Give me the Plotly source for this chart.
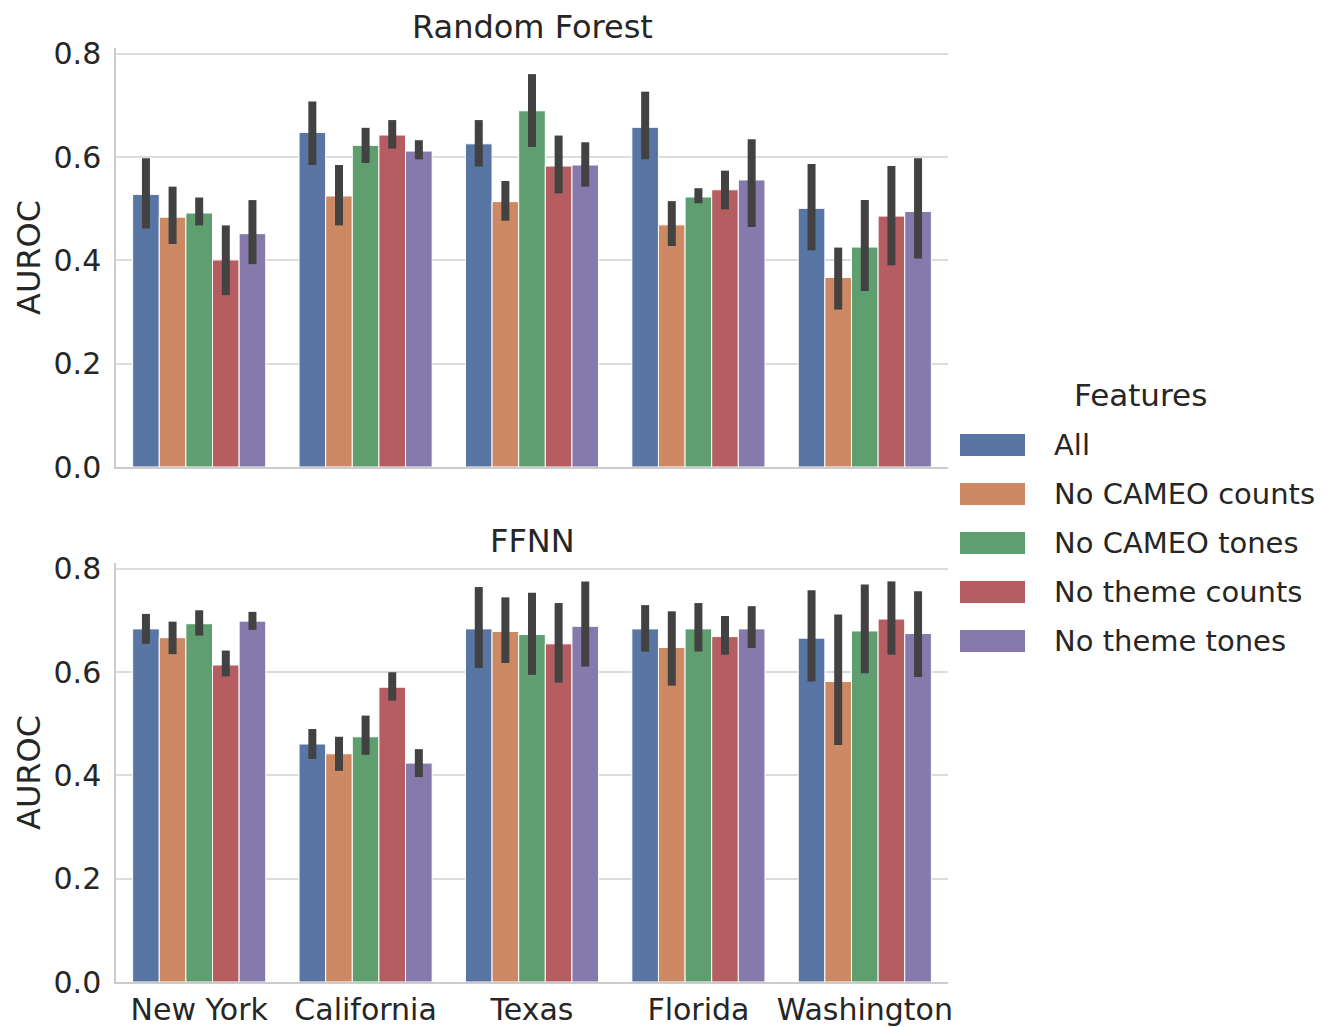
import plotly.graph_objects as go
from plotly.subplots import make_subplots

states = ["New York", "California", "Texas", "Florida", "Washington"]
features = ["All", "No CAMEO counts", "No CAMEO tones", "No theme counts", "No theme tones"]
colors = ["#5875a4", "#cc8963", "#5f9e6e", "#b55d60", "#857aab"]
y_ticks = [0.0, 0.2, 0.4, 0.6, 0.8]
y_tick_labels = ["0.0", "0.2", "0.4", "0.6", "0.8"]

# Random Forest: mean, lower CI, upper CI per feature (across states)
rf_all = [0.528, 0.648, 0.626, 0.658, 0.501]
rf_all_lo = [0.462, 0.585, 0.582, 0.596, 0.420]
rf_all_hi = [0.598, 0.708, 0.672, 0.727, 0.587]
rf_cc = [0.484, 0.525, 0.514, 0.469, 0.367]
rf_cc_lo = [0.432, 0.468, 0.477, 0.428, 0.305]
rf_cc_hi = [0.543, 0.585, 0.554, 0.515, 0.425]
rf_ct = [0.492, 0.623, 0.690, 0.523, 0.426]
rf_ct_lo = [0.468, 0.589, 0.620, 0.511, 0.341]
rf_ct_hi = [0.522, 0.657, 0.761, 0.540, 0.517]
rf_tc = [0.401, 0.643, 0.583, 0.537, 0.486]
rf_tc_lo = [0.333, 0.617, 0.530, 0.499, 0.391]
rf_tc_hi = [0.468, 0.672, 0.642, 0.574, 0.583]
rf_tt = [0.452, 0.612, 0.585, 0.556, 0.495]
rf_tt_lo = [0.393, 0.596, 0.543, 0.465, 0.404]
rf_tt_hi = [0.517, 0.633, 0.629, 0.635, 0.598]

# FFNN
nn_all = [0.684, 0.461, 0.684, 0.684, 0.666]
nn_all_lo = [0.655, 0.432, 0.608, 0.640, 0.582]
nn_all_hi = [0.713, 0.490, 0.765, 0.730, 0.759]
nn_cc = [0.667, 0.442, 0.679, 0.648, 0.582]
nn_cc_lo = [0.635, 0.409, 0.618, 0.574, 0.459]
nn_cc_hi = [0.698, 0.475, 0.745, 0.718, 0.712]
nn_ct = [0.694, 0.475, 0.673, 0.684, 0.680]
nn_ct_lo = [0.671, 0.440, 0.595, 0.640, 0.598]
nn_ct_hi = [0.720, 0.516, 0.754, 0.734, 0.770]
nn_tc = [0.614, 0.571, 0.655, 0.669, 0.703]
nn_tc_lo = [0.592, 0.545, 0.580, 0.634, 0.634]
nn_tc_hi = [0.642, 0.600, 0.734, 0.709, 0.776]
nn_tt = [0.699, 0.424, 0.689, 0.684, 0.675]
nn_tt_lo = [0.682, 0.397, 0.611, 0.647, 0.591]
nn_tt_hi = [0.717, 0.451, 0.776, 0.728, 0.757]

rf_series = [(rf_all, rf_all_lo, rf_all_hi), (rf_cc, rf_cc_lo, rf_cc_hi),
             (rf_ct, rf_ct_lo, rf_ct_hi), (rf_tc, rf_tc_lo, rf_tc_hi),
             (rf_tt, rf_tt_lo, rf_tt_hi)]
nn_series = [(nn_all, nn_all_lo, nn_all_hi), (nn_cc, nn_cc_lo, nn_cc_hi),
             (nn_ct, nn_ct_lo, nn_ct_hi), (nn_tc, nn_tc_lo, nn_tc_hi),
             (nn_tt, nn_tt_lo, nn_tt_hi)]

W, H = 1337, 1027
FONT = "DejaVu Sans"
TXT = "#262626"
GRID = "#dcdcdc"

fig = make_subplots(rows=2, cols=1, shared_xaxes=False)

for row, series in ((1, rf_series), (2, nn_series)):
    for i, (mean, lo, hi) in enumerate(series):
        fig.add_trace(go.Bar(
            x=states, y=mean, name=features[i], showlegend=False,
            marker=dict(color=colors[i], line=dict(color="white", width=1)),
            error_y=dict(type="data", symmetric=False,
                         array=[h - m for h, m in zip(hi, mean)],
                         arrayminus=[m - l for m, l in zip(mean, lo)],
                         color="#424242", thickness=8, width=0),
        ), row=row, col=1)

x0, x1 = 116 / W, 948 / W
top_dom = [(H - 467) / H, (H - 48) / H]
bot_dom = [(H - 982) / H, (H - 563) / H]

axis_common = dict(showline=True, linecolor="#cccccc", linewidth=1.5, automargin=False)
fig.update_layout(
    xaxis=dict(domain=[x0, x1], showticklabels=False, ticks="", showgrid=False,
               range=[-0.5, 4.5], **axis_common),
    xaxis2=dict(domain=[x0, x1], showgrid=False, ticks="", range=[-0.5, 4.5],
                tickfont=dict(family=FONT, size=30, color=TXT), ticklabelstandoff=0,
                **axis_common),
    yaxis=dict(domain=top_dom, range=[0, 0.8116], tickvals=y_ticks, ticktext=y_tick_labels,
               showgrid=True, gridcolor=GRID, gridwidth=1.5, zeroline=False, ticks="",
               tickfont=dict(family=FONT, size=30, color=TXT), ticklabelstandoff=7,
               **axis_common),
    yaxis2=dict(domain=bot_dom, range=[0, 0.8116], tickvals=y_ticks, ticktext=y_tick_labels,
                showgrid=True, gridcolor=GRID, gridwidth=1.5, zeroline=False, ticks="",
                tickfont=dict(family=FONT, size=30, color=TXT), ticklabelstandoff=7,
                **axis_common),
    barmode="group", bargap=0.2, bargroupgap=0,
    width=W, height=H, margin=dict(l=0, r=0, t=0, b=0),
    plot_bgcolor="white", paper_bgcolor="white",
    font=dict(family=FONT, color=TXT),
    showlegend=False,
)

ann = []
ann.append(dict(x=532 / W, y=(H - 27) / H, xref="paper", yref="paper", text="Random Forest",
                showarrow=False, font=dict(size=32, family=FONT, color=TXT),
                xanchor="center", yanchor="middle"))
ann.append(dict(x=532 / W, y=(H - 541) / H, xref="paper", yref="paper", text="FFNN",
                showarrow=False, font=dict(size=32, family=FONT, color=TXT),
                xanchor="center", yanchor="middle"))
for yc in (258, 773):
    ann.append(dict(x=29 / W, y=(H - yc) / H, xref="paper", yref="paper", text="AUROC",
                    textangle=-90, showarrow=False, font=dict(size=32, family=FONT, color=TXT),
                    xanchor="center", yanchor="middle"))

# custom legend
ann.append(dict(x=1140 / W, y=(H - 395) / H, xref="paper", yref="paper", text="Features",
                showarrow=False, font=dict(size=31, family=FONT, color=TXT),
                xanchor="center", yanchor="middle"))
shapes = []
for i, name in enumerate(features):
    yc = 445 + i * 49
    shapes.append(dict(type="rect", xref="paper", yref="paper",
                       x0=960 / W, x1=1025 / W, y0=(H - yc - 11) / H, y1=(H - yc + 11) / H,
                       fillcolor=colors[i], line=dict(width=0)))
    ann.append(dict(x=1052 / W, y=(H - yc) / H, xref="paper", yref="paper", text=name,
                    showarrow=False, font=dict(size=29, family=FONT, color=TXT),
                    xanchor="left", yanchor="middle"))

fig.update_layout(annotations=ann, shapes=shapes)
fig.write_html("out.html")
